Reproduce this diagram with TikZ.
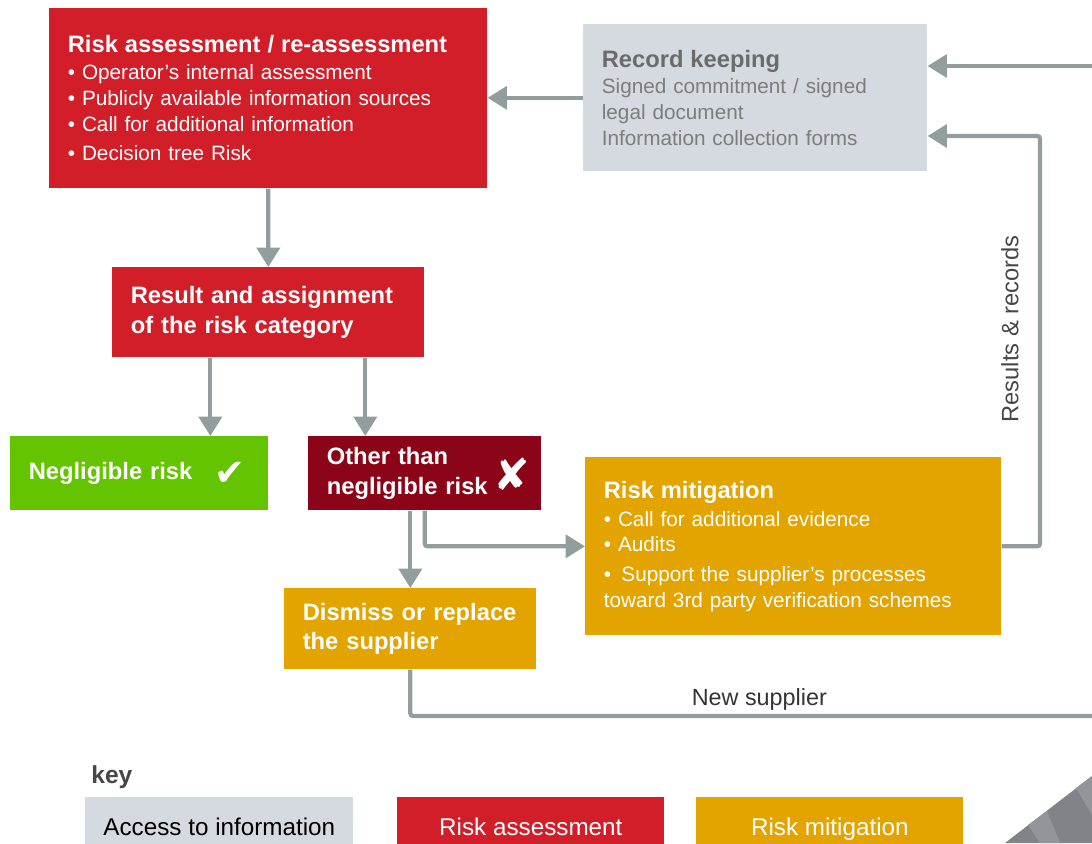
\documentclass[tikz,border=0pt]{standalone}
\usepackage{fontspec}
\setmainfont{Liberation Sans}
\newfontfamily\symfont{DejaVu Sans}
\usetikzlibrary{arrows.meta}

\definecolor{rared}{RGB}{210,30,40}
\definecolor{darkred}{RGB}{140,4,24}
\definecolor{okgreen}{RGB}{100,196,0}
\definecolor{mitorange}{RGB}{227,164,0}
\definecolor{infogrey}{RGB}{213,217,224}
\definecolor{linegrey}{RGB}{146,158,158}
\definecolor{recgrey}{RGB}{125,125,125}
\definecolor{labelgrey}{RGB}{70,70,70}
\definecolor{cornergrey}{RGB}{128,131,135}
\definecolor{cornerlight}{RGB}{146,149,153}

\newcommand{\ttl}{\fontsize{13.5}{16}\selectfont\bfseries}

\begin{document}
\begin{tikzpicture}[x=0.02cm, y=-0.02cm,
  box/.style={anchor=north west, inner xsep=0.37cm, inner ysep=0pt, align=left, text=white,
    font=\fontsize{11.8}{14.7}\selectfont},
  bigbox/.style={box, font=\fontsize{13.5}{17}\selectfont\bfseries},
  flow/.style={-{Triangle[width=13pt,length=11pt]}, draw=linegrey, line width=2.4pt,
    rounded corners=1.5pt},
  keybox/.style={anchor=north west, minimum height=1.2cm, inner sep=0pt,
    text height=11pt, text depth=2pt, font=\fontsize{13.8}{16}\selectfont}]
\useasboundingbox (0,0) rectangle (1092,843);
\clip (0,0) rectangle (1092,843);

% Boxes
\node[box, fill=rared, minimum width=8.76cm, text width=8.02cm, minimum height=3.6cm] (ra) at (49,8)
  {{\ttl Risk assessment / re-assessment}\\[0.6pt]
   • Operator’s internal assessment\\
   • Publicly available information sources\\
   • Call for additional information\\[2pt]
   • Decision tree Risk};
\node[box, fill=infogrey, text=recgrey, minimum width=6.88cm, text width=6.14cm, minimum height=2.94cm] (rec) at (583,24)
  {{\ttl\color{black!58} Record keeping}\\[0.6pt]
   Signed commitment / signed\\
   legal document\\
   Information collection forms};
\node[bigbox, fill=rared, minimum width=6.24cm, text width=5.5cm, minimum height=1.8cm] (res) at (112,267)
  {Result and assignment\\of the risk category};
\node[bigbox, fill=okgreen, minimum width=5.16cm, text width=4.42cm, minimum height=1.48cm] (negl) at (10,436)
  {Negligible risk};
\node[bigbox, fill=darkred, minimum width=4.66cm, text width=3.92cm, minimum height=1.48cm] (other) at (308,436)
  {Other than\\negligible risk};
\node[box, fill=mitorange, minimum width=8.32cm, text width=7.58cm, minimum height=3.56cm] (mit) at (585,457)
  {{\ttl Risk mitigation}\\[1pt]
   • Call for additional evidence\\
   • Audits\\[2pt]
   •\, Support the supplier’s processes\\
   toward 3rd party verification schemes};
\node[bigbox, fill=mitorange, minimum width=5.02cm, text width=4.3cm, minimum height=1.62cm] (dism) at (284,588)
  {Dismiss or replace\\the supplier};

% Marks
\node[text=white, font=\symfont\fontsize{21}{21}\selectfont, inner sep=0pt] (tick) at (230,474) {✔};
\node[text=white, font=\symfont\fontsize{25}{25}\selectfont, inner sep=0pt] (cross) at (512,474) {✘};

% Connectors
\coordinate (rin) at (1092,66);
\coordinate (rr) at (1040,136);
\coordinate (nsend) at (1092,716);
\draw[flow] (rin) -- (rin -| rec.east);
\draw[flow] (rec.west) -- (rec.west -| ra.east);
\draw[flow] (ra.south) -- (res.north);
\draw[flow] ([xshift=-1.16cm]res.south) -- ([xshift=-1.16cm]res.south |- negl.north);
\draw[flow] ([xshift=1.94cm]res.south) -- ([xshift=1.94cm]res.south |- other.north);
\draw[flow] (dism.north |- other.south) -- (dism.north);
\draw[flow] (other.south) |- (mit.west);
\draw[flow] (mit.east) -- (mit.east -| rr)
  -- node[sloped, above, pos=0.53, inner sep=11pt, text=labelgrey, font=\fontsize{13.5}{16}\selectfont] (reslbl) {Results \& records} (rr)
  -- (rr -| rec.east);
\draw[draw=linegrey, line width=2.4pt, rounded corners=1.5pt] (dism.south) |- node[above, pos=0.756, inner sep=2pt, text=black!80, font=\fontsize{13.3}{16}\selectfont] (nslbl) {New supplier} (nsend);

% Key
\node[anchor=base west, inner sep=0pt, text=labelgrey, font=\fontsize{14}{16}\selectfont\bfseries] (key) at (91,783) {key};
\node[keybox, fill=infogrey, minimum width=5.36cm] (kinfo) at (85,797) {Access to information};
\node[keybox, fill=rared, text=white, minimum width=5.34cm] (kra) at (397,797) {Risk assessment};
\node[keybox, fill=mitorange, text=white, minimum width=5.34cm] (kmit) at (696,797) {Risk mitigation};

% Corner
\fill[cornergrey] (1005,843) -- (1092,776) -- (1092,843) -- cycle;
\fill[cornerlight] (1028,825) -- (1047,811) -- (1060,843) -- (1040,843) -- cycle;
\fill[cornerlight] (1076,788) -- (1092,776) -- (1092,815) -- cycle;
\end{tikzpicture}
\end{document}
